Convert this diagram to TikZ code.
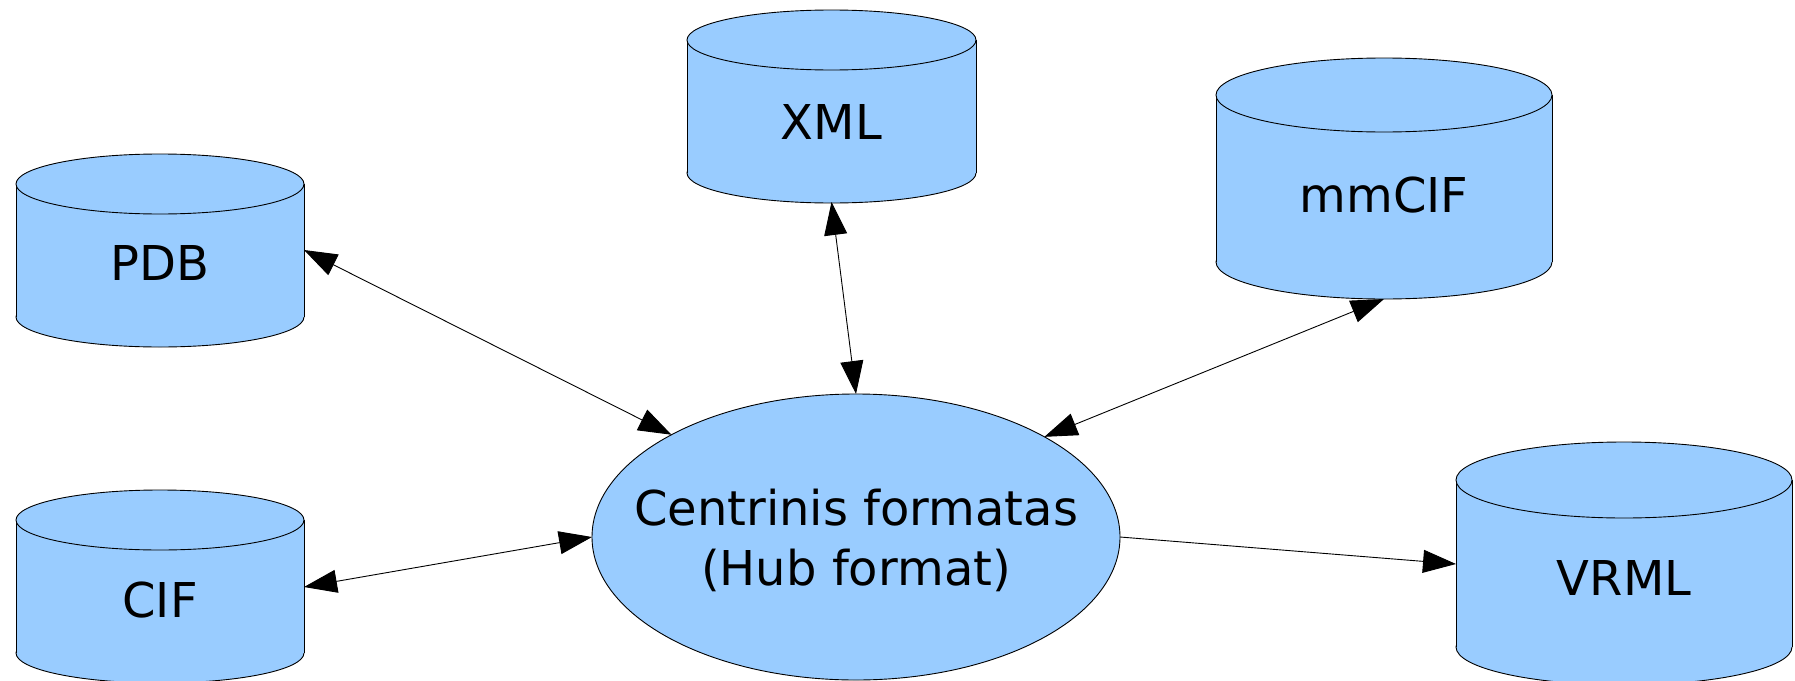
\documentclass[tikz,border=0pt]{standalone}
\usepackage{fontspec}
\setmainfont{DejaVu Sans}
\usetikzlibrary{arrows.meta,shapes.geometric}
\definecolor{dbblue}{RGB}{153,204,255}
\newcommand\dbcyl[5]{% cx, ytop, ybot, rx, ry
  \fill[dbblue,draw=black,line width=0.9pt] (#1,#3) ellipse ({#4pt} and {#5pt});
  \fill[dbblue] (#1-#4,#2) rectangle (#1+#4,#3);
  \draw[line width=0.9pt] (#1-#4,#2) -- (#1-#4,#3) (#1+#4,#2) -- (#1+#4,#3);
  \fill[dbblue,draw=black,line width=0.9pt] (#1,#2) ellipse ({#4pt} and {#5pt});
}
\tikzset{
  dbbox/.style={draw=none,inner sep=0pt,outer sep=0pt},
  dblabel/.style={font=\fontsize{48}{57}\selectfont,inner sep=0pt},
  hubshape/.style={ellipse,draw=black,fill=dbblue,line width=0.9pt,inner sep=0pt,outer sep=0pt,
    minimum width=528pt,minimum height=286pt},
  conn/.style={line width=0.9pt},
  tip/.tip={Triangle[length=33pt,width=23pt]}
}
\begin{document}
\begin{tikzpicture}[x=1pt,y=-1pt]
\useasboundingbox (0,0) rectangle (1795,680);
\fill[white] (0,0) rectangle (1795,680);

\dbcyl{160}{184}{317}{144}{30}
\dbcyl{160}{520}{653}{144}{30}
\dbcyl{831.5}{40}{173}{144.5}{30}
\dbcyl{1384}{95}{262}{168}{37}
\dbcyl{1624}{480}{647}{168}{38}

\node[dbbox,minimum width=288pt,minimum height=192pt,
  label={[dblabel,yshift=-13pt]center:PDB}] (pdb) at (160,250) {};
\node[dbbox,minimum width=288pt,minimum height=194pt,
  label={[dblabel,yshift=-13pt]center:CIF}] (cif) at (160,587) {};
\node[dbbox,minimum width=289pt,minimum height=192pt,
  label={[dblabel,yshift=-16pt]center:XML}] (xml) at (831.5,106) {};
\node[dbbox,minimum width=336pt,minimum height=242pt,
  label={[dblabel,yshift=-17pt]center:mmCIF}] (mmcif) at (1384,178) {};
\node[dbbox,minimum width=336pt,minimum height=242pt,
  label={[dblabel,yshift=-14pt]center:VRML}] (vrml) at (1624,564) {};

\node[hubshape,label={[align=center,inner sep=0pt,yshift=-3pt,font=\fontsize{48}{60}\selectfont]center:Centrinis formatas\\(Hub format)}] (hub) at (856,537) {};

\draw[conn,tip-tip] (pdb.east) -- (hub.151.5);
\draw[conn,tip-tip] (xml.south) -- (hub.north);
\draw[conn,tip-tip] (mmcif.south) -- (hub.28.6);
\draw[conn,tip-tip] (cif.east) -- (hub.west);
\draw[conn,-tip] (hub.east) -- (vrml.west);
\end{tikzpicture}
\end{document}
